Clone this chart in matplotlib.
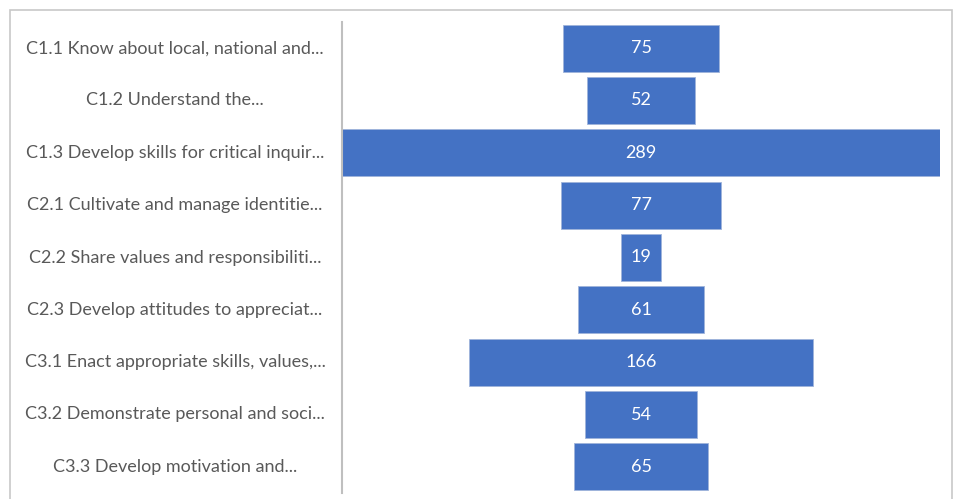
import matplotlib

matplotlib.use("Agg")
from matplotlib import pyplot as plt
from matplotlib import transforms
from matplotlib.patches import Rectangle

categories = [
    "C1.1 Know about local, national and...",
    "C1.2 Understand the...",
    "C1.3 Develop skills for critical inquir...",
    "C2.1 Cultivate and manage identitie...",
    "C2.2 Share values and responsibiliti...",
    "C2.3 Develop attitudes to appreciat...",
    "C3.1 Enact appropriate skills, values,...",
    "C3.2 Demonstrate personal and soci...",
    "C3.3 Develop motivation and...",
]
counts = [75, 52, 289, 77, 19, 61, 166, 54, 65]

W, H = 955, 499
plt.rcParams["font.family"] = ["Lato", "DejaVu Sans"]

figure = plt.figure(figsize=(W / 100, H / 100), dpi=100)
# plot area: spine at x=342, bars symmetric around the centre
axis = figure.add_axes([342 / W, 1 - 493 / H, (940 - 342) / W, (493 - 22) / H])

positions = list(range(len(counts)))
lefts = [-c / 2 for c in counts]
axis.barh(positions, counts, left=lefts, height=0.9, color="#4472C4",
          edgecolor="#9FB4DA", linewidth=0.6)
for y, c in zip(positions, counts):
    axis.text(0, y, str(c), ha="center", va="center", color="white", fontsize=13)

half = max(counts) / 2
axis.set_xlim(-half, half)
axis.set_ylim(len(counts) - 0.5, -0.5)
axis.set_xticks([])
axis.set_yticks([])
for side in ("top", "right", "bottom"):
    axis.spines[side].set_visible(False)
axis.spines["left"].set_color("#BFBFBF")
axis.spines["left"].set_linewidth(1.5)

# category names centred in the band left of the spine
label_tf = transforms.blended_transform_factory(figure.transFigure, axis.transData)
for y, name in zip(positions, categories):
    axis.text(175 / W, y, name, transform=label_tf, ha="center", va="center",
              color="#595959", fontsize=13, clip_on=False)

figure.patches.append(Rectangle((10 / W, -0.1), (952 - 10) / W, 1.1 - 10 / H,
                                transform=figure.transFigure, fill=False,
                                edgecolor="#C8C8C8", linewidth=1.2))

figure.savefig("out.png", dpi=100)
